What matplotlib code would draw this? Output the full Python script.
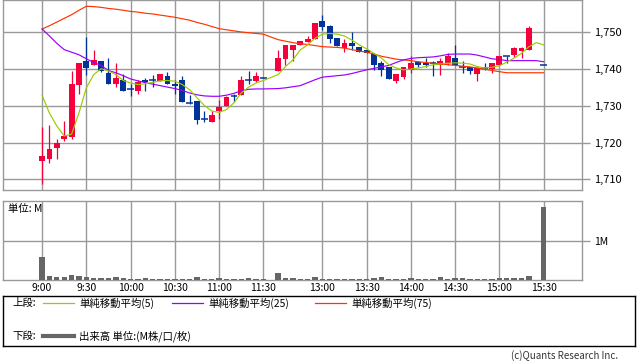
import numpy as np
import pandas as pd
import matplotlib
matplotlib.use('Agg')
import matplotlib.pyplot as plt
from matplotlib.lines import Line2D

plt.rcParams['font.family'] = ['Noto Sans CJK JP', 'DejaVu Sans']

# ── data ─────────────────────────────────────────────
am_times = pd.date_range('09:00', '11:30', freq='5min')
pm_times = pd.date_range('12:30', '15:30', freq='5min')
times = list(am_times) + list(pm_times)

nan = np.nan
opens = [1715.0, 1715.5, 1718.5, 1720.9, 1721.5, 1735.6, 1742.3, 1741.0, 1742.3, 1739.0,
         1735.9, 1737.1, 1734.6, 1734.0, 1737.1, 1737.0, 1736.8, 1738.2, 1735.9, 1737.1,
         1730.7, 1731.2, 1726.5, 1725.6, 1728.6, 1729.9, 1732.6, 1732.9, 1737.1, 1736.8,
         1737.6,
         1739.4, 1742.8, 1745.2, 1746.5, 1747.3, 1748.1, 1753.1, 1751.7, 1748.5, 1745.8,
         1747.2, 1746.0, 1745.3, 1744.0, 1741.7, 1740.6, 1736.8, 1737.9, 1739.8, 1742.0,
         1741.7, 1741.7, 1741.2, 1741.7, 1743.0, 1740.5, 1740.6, 1738.7, 1740.2, 1740.0,
         1741.0, 1743.6, 1743.9, 1745.0, 1745.2, nan, 1741.1]
highs = [1724.2, 1724.7, 1721.1, 1725.8, 1739.6, 1741.7, 1748.6, 1745.2, 1742.3, 1743.1,
         1741.7, 1738.6, 1736.0, 1737.1, 1737.5, 1738.4, 1738.7, 1739.1, 1737.1, 1738.1,
         1733.0, 1731.2, 1728.7, 1728.5, 1731.7, 1732.8, 1733.1, 1738.2, 1739.5, 1739.1,
         1737.6,
         1745.2, 1746.6, 1746.6, 1747.7, 1749.0, 1752.5, 1754.7, 1752.0, 1748.5, 1748.2,
         1750.1, 1746.0, 1745.3, 1744.0, 1742.3, 1740.6, 1738.7, 1740.6, 1743.6, 1742.3,
         1743.0, 1742.3, 1743.0, 1744.5, 1746.6, 1742.3, 1740.6, 1740.5, 1741.6, 1741.7,
         1743.5, 1743.6, 1746.1, 1746.1, 1751.7, nan, 1741.1]
lows = [1708.6, 1714.4, 1715.5, 1720.5, 1720.9, 1733.3, 1738.5, 1741.0, 1739.2, 1735.9,
        1735.0, 1734.0, 1732.8, 1733.3, 1734.0, 1735.1, 1736.8, 1735.9, 1733.3, 1731.0,
        1730.5, 1725.0, 1725.6, 1725.6, 1726.3, 1729.9, 1731.0, 1732.9, 1735.9, 1736.4,
        1737.6,
        1739.4, 1741.2, 1742.3, 1746.5, 1747.3, 1748.1, 1750.6, 1747.0, 1746.3, 1744.6,
        1745.2, 1744.6, 1744.3, 1739.8, 1738.0, 1737.4, 1736.3, 1737.4, 1739.0, 1740.5,
        1740.7, 1738.1, 1738.5, 1741.2, 1741.0, 1738.9, 1738.7, 1736.8, 1739.8, 1738.9,
        1741.0, 1741.6, 1743.4, 1743.0, 1745.2, nan, 1741.1]
closes = [1716.3, 1718.2, 1720.0, 1721.7, 1736.0, 1741.7, 1740.4, 1742.4, 1739.4, 1735.9,
          1737.7, 1734.0, 1734.6, 1736.5, 1736.5, 1737.0, 1738.7, 1735.9, 1735.5, 1731.0,
          1730.7, 1726.1, 1726.5, 1727.6, 1729.6, 1732.3, 1732.6, 1737.1, 1737.1, 1738.2,
          1737.6,
          1743.1, 1746.6, 1746.6, 1747.7, 1748.2, 1752.5, 1751.5, 1748.3, 1746.3, 1747.2,
          1746.4, 1744.6, 1744.3, 1741.0, 1739.8, 1737.4, 1738.7, 1740.6, 1741.7, 1741.2,
          1741.0, 1741.7, 1742.3, 1743.6, 1741.0, 1740.5, 1739.4, 1740.2, 1740.2, 1741.7,
          1743.5, 1743.6, 1745.7, 1745.7, 1751.2, nan, 1741.1]

ma5 = [1732.9, 1728.0, 1724.5, 1721.8, 1722.3, 1728.1, 1734.9, 1738.5, 1740.1, 1739.5,
       1738.5, 1736.9, 1736.2, 1735.8, 1736.0, 1736.4, 1736.8, 1736.9, 1736.7, 1735.8,
       1734.4, 1732.2, 1730.1, 1728.6, 1728.2, 1729.0, 1730.8, 1733.5, 1735.1, 1736.2,
       1736.9,
       1738.5, 1740.7, 1742.5, 1745.2, 1746.6, 1748.4, 1749.5, 1749.7, 1749.5, 1749.0,
       1747.9, 1746.6, 1745.5, 1744.3, 1743.0, 1741.2, 1740.3, 1739.8, 1740.0, 1740.3,
       1740.7, 1741.2, 1741.4, 1741.6, 1741.7, 1741.6, 1741.4, 1740.7, 1740.3, 1740.5,
       1740.9, 1741.9, 1743.0, 1744.3, 1746.1, 1747.2, 1746.6]
ma25 = [1750.9, 1749.0, 1747.0, 1745.3, 1744.6, 1743.9, 1742.8, 1741.8, 1741.0, 1739.6,
        1739.0, 1738.2, 1737.3, 1736.8, 1736.3, 1735.9, 1735.5, 1735.1, 1734.7, 1734.2,
        1733.5, 1733.0, 1732.7, 1732.6, 1732.6, 1732.9, 1733.4, 1734.1, 1734.5, 1734.6,
        1734.6,
        1734.7, 1734.9, 1735.2, 1735.5, 1736.3, 1737.1, 1737.8, 1738.0, 1738.2, 1738.4,
        1738.8, 1739.3, 1739.8, 1740.2, 1740.6, 1741.0, 1741.8, 1742.5, 1742.9, 1743.1,
        1743.2, 1743.3, 1743.6, 1744.0, 1744.1, 1744.1, 1744.1, 1743.8, 1743.3, 1742.8,
        1742.6, 1742.3, 1742.3, 1742.3, 1742.3, 1742.3, 1742.0]
ma75 = [1750.9, 1751.8, 1752.8, 1753.8, 1754.8, 1756.0, 1757.1, 1757.0, 1756.8, 1756.5,
        1756.3, 1756.0, 1755.7, 1755.5, 1755.2, 1755.0, 1754.7, 1754.4, 1754.1, 1753.7,
        1753.3, 1752.7, 1752.2, 1751.6, 1751.0, 1750.7, 1750.4, 1750.1, 1749.9, 1749.7,
        1749.5,
        1748.0, 1747.6, 1747.2, 1746.9, 1746.7, 1746.4, 1746.1, 1746.0, 1745.9, 1745.7,
        1745.3, 1744.9, 1744.6, 1744.1, 1743.5, 1743.1, 1742.7, 1742.5, 1742.3, 1742.0,
        1741.8, 1741.6, 1741.4, 1741.2, 1741.0, 1740.8, 1740.6, 1740.3, 1740.0, 1739.6,
        1739.3, 1739.0, 1739.0, 1739.0, 1739.0, 1739.0, 1739.0]

# 出来高 (M)
volume = [0.60, 0.10, 0.086, 0.086, 0.14, 0.11, 0.086, 0.06, 0.06, 0.06,
          0.086, 0.06, 0.035, 0.035, 0.06, 0.035, 0.035, 0.035, 0.035, 0.035,
          0.017, 0.086, 0.035, 0.035, 0.06, 0.035, 0.035, 0.035, 0.06, 0.035,
          0.017,
          0.18, 0.06, 0.06, 0.035, 0.035, 0.086, 0.035, 0.035, 0.035, 0.035,
          0.035, 0.035, 0.035, 0.06, 0.086, 0.035, 0.035, 0.035, 0.06, 0.035,
          0.035, 0.035, 0.086, 0.035, 0.06, 0.06, 0.035, 0.035, 0.035, 0.035,
          0.06, 0.06, 0.06, 0.06, 0.11, nan, 1.90]

time_labels = ['9:00', '9:30', '10:00', '10:30', '11:00', '11:30',
               '13:00', '13:30', '14:00', '14:30', '15:00', '15:30']
price_ticks = [1710, 1720, 1730, 1740, 1750]

# ── positions: lunch break squeezed into one empty slot ──
slots = np.r_[np.arange(len(am_times)), np.arange(len(pm_times)) + len(am_times) + 1]
tstr = [f"{t.hour}:{t.minute:02d}" for t in times]
label_slots = [slots[tstr.index(s)] for s in time_labels]

o, h, l, c = (np.array(a, dtype=float) for a in (opens, highs, lows, closes))
vol = np.array(volume, dtype=float)

RED = '#F5003C'
BLUE = '#003399'
GRID = '#999999'
W, H = 638, 362

def fpos(x0, y0, x1, y1):
    return [x0 / W, 1 - y1 / H, (x1 - x0) / W, (y1 - y0) / H]

fig = plt.figure(figsize=(W / 100, H / 100), dpi=100)
XLIM = (-5.3, 73.2)

# ── 上段: ローソク足 ───────────────────────────────────
ax = fig.add_axes(fpos(3, 0, 582, 190))
ok = ~np.isnan(o)
s, o_, h_, l_, c_ = slots[ok], o[ok], h[ok], l[ok], c[ok]
up = c_ > o_
cols = np.where(up, RED, BLUE)
ax.vlines(s, l_, h_, colors=cols, lw=0.9, zorder=3)
ax.bar(s, np.abs(c_ - o_), bottom=np.minimum(o_, c_), width=0.8, color=cols,
       lw=0, zorder=3)
doji = c_ == o_
ax.hlines(o_[doji], s[doji] - 0.45, s[doji] + 0.45, colors=BLUE, lw=1.1, zorder=3)

ax.plot(slots, ma75, color='#FF3300', lw=0.85, zorder=4)
ax.plot(slots, ma25, color='#9900FF', lw=0.85, zorder=4)
ax.plot(slots, ma5, color='#99CC00', lw=0.85, zorder=5)

ax.set_xlim(*XLIM)
ax.set_ylim(1707.1, 1758.8)
ax.set_xticks(label_slots)
ax.set_xticklabels([])
ax.tick_params(axis='x', length=0)
ax.yaxis.tick_right()
ax.set_yticks(price_ticks)
ax.set_yticklabels([f'{p:,}' for p in price_ticks])
ax.tick_params(axis='y', length=6, color=GRID, width=1.0, pad=3, labelsize=8)
ax.grid(True, color=GRID, lw=1.0)
ax.set_axisbelow(True)
for sp in ax.spines.values():
    sp.set_color(GRID)
    sp.set_linewidth(1.0)

# ── 下段: 出来高 ──────────────────────────────────────
axv = fig.add_axes(fpos(3, 201, 582, 280))
vok = ~np.isnan(vol)
axv.bar(slots[vok], vol[vok], width=0.72, color='#666666', lw=0, zorder=3)
axv.set_xlim(*XLIM)
axv.set_ylim(0, 2.05)
axv.set_xticks(label_slots)
axv.set_xticklabels(time_labels)
axv.tick_params(axis='x', length=0, pad=2, labelsize=7.5)
axv.yaxis.tick_right()
axv.set_yticks([1])
axv.set_yticklabels(['1M'])
axv.tick_params(axis='y', length=6, color=GRID, width=1.0, pad=3, labelsize=7.5)
axv.grid(True, color=GRID, lw=1.0)
axv.set_axisbelow(True)
for sp in axv.spines.values():
    sp.set_color(GRID)
    sp.set_linewidth(1.0)
axv.text(5 / 579, 1 - 8 / 79, '単位: M', transform=axv.transAxes,
         fontsize=7.5, va='center', ha='left')

# ── 凡例 ──────────────────────────────────────────────
leg = fig.add_axes(fpos(3, 296, 635, 346))
leg.set_xlim(3, 635)
leg.set_ylim(346, 296)
leg.set_xticks([])
leg.set_yticks([])
for sp in leg.spines.values():
    sp.set_color('black')
    sp.set_linewidth(1.0)

fs = 7.5
leg.text(12, 303, '上段:', fontsize=fs, va='center')
items = [(43, '#99CC00', '単純移動平均(5)'),
         (172, '#9900FF', '単純移動平均(25)'),
         (315, '#FF3300', '単純移動平均(75)')]
for x0, col, lab in items:
    leg.add_line(Line2D([x0, x0 + 31], [303, 303], color=col, lw=0.9))
    leg.text(x0 + 36, 303, lab, fontsize=fs, va='center')
leg.text(12, 336, '下段:', fontsize=fs, va='center')
leg.add_line(Line2D([43, 74], [336, 336], color='#666666', lw=3))
leg.text(79, 336, '出来高 単位:(M株/口/枚)', fontsize=fs, va='center')

fig.text(618 / W, 1 - 356 / H, '(c)Quants Research Inc.', fontsize=7,
         ha='right', va='center', color='#333333')

fig.savefig('out.png', dpi=100)
